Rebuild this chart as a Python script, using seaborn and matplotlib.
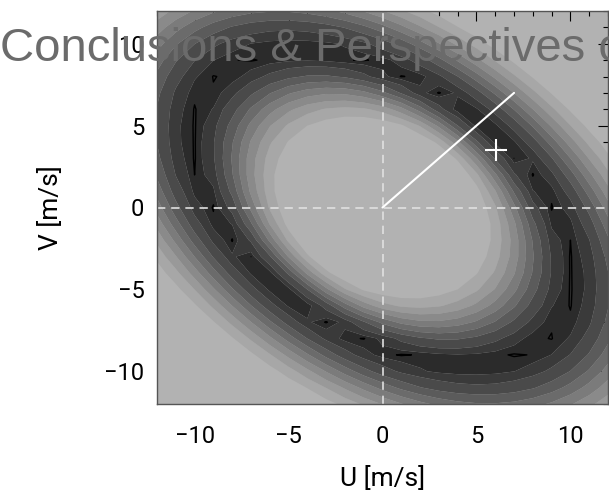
import numpy as np
import matplotlib
matplotlib.use("Agg")
import matplotlib.pyplot as plt
import seaborn as sns
import pandas as pd

# Velocity-plane grid (m/s)
u_axis = np.linspace(-12, 12, 25)
v_axis = np.linspace(-12, 12, 25)

# Ring of the distribution: tilted ellipse with a peaked rim
ring_major = 11.8
ring_minor = 7.3
core_major = 6.5      # edge of the flat inner core
core_minor = 4.9
tilt_deg = -41.6
rim_width_out = 0.30  # outer fall-off, in units of the ring radius
rim_width_in = 0.56   # inner rise, as a fraction of core-to-ring distance

# Filled contour levels and their grey shades
levels = [0.2, 0.3, 0.4, 0.5, 0.6, 0.7, 0.8, 0.9, 0.965, 1.01]
greys = ["#a7a7a7", "#999999", "#8a8a8a", "#7b7b7b", "#6b6b6b",
         "#5b5b5b", "#4a4a4a", "#3a3a3a", "#2b2b2b"]
background_grey = "#b2b2b2"
peak_level = [0.996]

# Overlays
arrow_u = [0.0, 7.0]
arrow_v = [0.0, 7.0]
point_u = [6.05]
point_v = [3.5]

u_ticks = [-10, -5, 0, 5, 10]
v_ticks = [-10, -5, 0, 5, 10]

sns.set_style("white")
plt.rcParams["font.family"] = ["Roboto", "DejaVu Sans"]
plt.rcParams.update({"text.color": "black", "axes.labelcolor": "black",
                     "xtick.color": "black", "ytick.color": "black"})

fig = plt.figure(figsize=(6.09, 5.01), dpi=100)
ax = fig.add_axes([157 / 609, 97 / 501, 451 / 609, 393 / 501])
ax.set_facecolor(background_grey)

U, V = np.meshgrid(u_axis, v_axis)
t = np.deg2rad(tilt_deg)
xr = U * np.cos(t) + V * np.sin(t)
yr = -U * np.sin(t) + V * np.cos(t)
r = np.hypot(xr, yr)
phi = np.arctan2(yr, xr)


def ellipse_radius(a, b):
    return 1.0 / np.sqrt((np.cos(phi) / a) ** 2 + (np.sin(phi) / b) ** 2)


d_ring = ellipse_radius(ring_major, ring_minor)
d_core = ellipse_radius(core_major, core_minor)
rho = r / d_ring
frac = (r - d_core) / (d_ring - d_core)

z_in = np.exp(-0.5 * ((1 - frac) / rim_width_in) ** 2)
z_out = np.exp(-0.5 * ((rho - 1) / rim_width_out) ** 2)
Z = np.where(rho < 1, z_in, z_out)

ax.contourf(U, V, Z, levels=levels, colors=greys, antialiased=True)
ax.contour(U, V, Z, levels=peak_level, colors="black", linewidths=1.0)

ax.axvline(0, color="#e0e0e0", lw=1.2, ls=(0, (5, 3.5)))
ax.axhline(0, color="#e0e0e0", lw=1.2, ls=(0, (5, 3.5)))

df_line = pd.DataFrame({"U": arrow_u, "V": arrow_v})
sns.lineplot(data=df_line, x="U", y="V", sort=False, estimator=None,
             color="white", lw=1.5, ax=ax)
df_pt = pd.DataFrame({"U": point_u, "V": point_v})
sns.scatterplot(data=df_pt, x="U", y="V", marker="+", s=260,
                color="white", linewidth=1.5, ax=ax, zorder=5)

ax.set_xlim(-12, 12)
ax.set_ylim(-12, 12)
ax.set_xticks(u_ticks)
ax.set_yticks(v_ticks)
ax.set_xticks(np.arange(-12, 13, 1), minor=True)
ax.set_yticks(np.arange(-12, 13, 1), minor=True)
ax.tick_params(which="both", direction="in", top=True, right=True,
               color="black", width=0.8)
ax.tick_params(which="major", length=7, labelsize=17, labelcolor="black")
ax.tick_params(which="minor", length=3.5)
ax.tick_params(axis="x", which="major", pad=15)
ax.tick_params(axis="y", which="major", pad=9)
for sp in ax.spines.values():
    sp.set_color("#555555")
    sp.set_linewidth(1.0)

ax.set_xlabel("U [m/s]", fontsize=19, labelpad=13, color="black")
ax.set_ylabel("V [m/s]", fontsize=19, labelpad=30, color="black")

fig.text(0.0, 1 - 61 / 501, "Conclusions & Perspectives of",
         family="Liberation Sans", fontsize=34, color="#6b6b6b",
         va="baseline", ha="left", zorder=10)

fig.savefig("out.png", dpi=100)
